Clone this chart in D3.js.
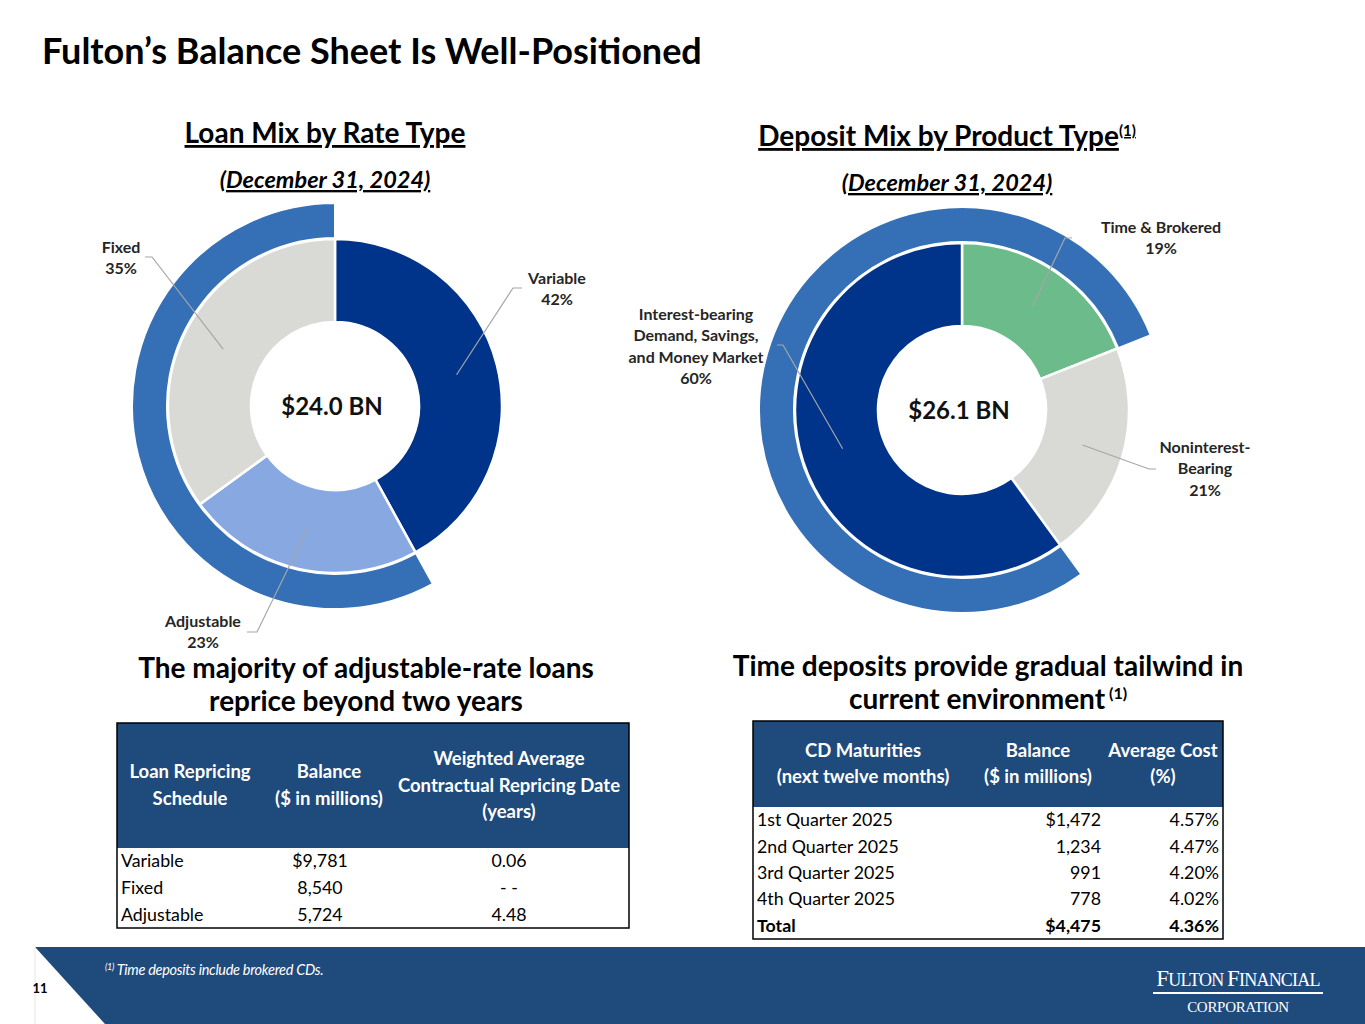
<!DOCTYPE html>
<html>
<head>
  <meta charset="utf-8">
  <title>Fulton's Balance Sheet</title>
  <script src="https://cdn.jsdelivr.net/npm/d3@7"></script>
  <style>
    body { margin: 0; background: #fff; }
    svg text { font-family: Lato, "Open Sans", sans-serif; }
  </style>
</head>
<body>
  <div id="slide"></div>
  <script>
    // Loan mix (inner ring, clockwise from 12 o'clock)
    const loanLabels = [["Variable", "42%"], ["Adjustable", "23%"], ["Fixed", "35%"]];
    const loanValues = [42, 23, 35];
    const loanColors = ["#00338A", "#87A8E0", "#D9D9D6"];

    // Deposit mix
    const depositLabels = [["Time & Brokered", "19%"], ["Noninterest-", "Bearing", "21%"],
                           ["Interest-bearing", "Demand, Savings,", "and Money Market", "60%"]];
    const depositValues = [19, 21, 60];
    const depositColors = ["#6CBB8A", "#D9D9D6", "#00338A"];

    // Loan repricing table
    const repriceHeader = [["Loan Repricing", "Schedule"], ["Balance", "($ in millions)"],
                           ["Weighted Average", "Contractual Repricing Date", "(years)"]];
    const repriceTypes = ["Variable", "Fixed", "Adjustable"];
    const repriceBalances = ["$9,781", "8,540", "5,724"];
    const repriceDates = ["0.06", "- -", "4.48"];

    // CD maturities table
    const cdHeader = [["CD Maturities", "(next twelve months)"], ["Balance", "($ in millions)"], ["Average Cost", "(%)"]];
    const cdQuarters = ["1st Quarter 2025", "2nd Quarter 2025", "3rd Quarter 2025", "4th Quarter 2025", "Total"];
    const cdBalances = ["$1,472", "1,234", "991", "778", "$4,475"];
    const cdCosts = ["4.57%", "4.47%", "4.20%", "4.02%", "4.36%"];

    const W = 1365, H = 1024;
    const ringBlue = "#3570B7", headBlue = "#1F4A7C", leader = "#A6A6A6";

    const svg = d3.select("#slide").append("svg")
        .attr("width", W).attr("height", H);

    // Title
    svg.append("text").attr("x", 42).attr("y", 64)
        .attr("font-size", 36).attr("font-weight", 700).attr("fill", "#000")
        .text("Fulton\u2019s Balance Sheet Is Well-Positioned");

    function heading(x, y, main, sup) {
      const t = svg.append("text").attr("x", x).attr("y", y).attr("text-anchor", "middle")
          .attr("font-size", 28).attr("font-weight", 700).style("text-decoration", "underline");
      t.append("tspan").text(main);
      if (sup) t.append("tspan").attr("font-size", 15).attr("dy", -10).style("text-decoration", "none").text(sup);
      svg.append("text").attr("x", x).attr("y", y + 45).attr("text-anchor", "middle")
          .attr("font-size", 23.5).attr("font-weight", 700).attr("font-style", "italic")
          .style("text-decoration", "underline").text("(December 31, 2024)");
    }
    heading(325, 143, "Loan Mix by Rate Type");
    heading(947, 146, "Deposit Mix by Product Type", "(1)");

    // Donut with partial outer ring; leader lines from slice centroids
    function donut(cx, cy, values, colors, labels, ringFrom, ringTo, total, labelPos) {
      const g = svg.append("g").attr("transform", `translate(${cx},${cy})`);
      const pie = d3.pie().sort(null).value(d => d);
      const arcs = pie(values);
      const inner = d3.arc().innerRadius(84).outerRadius(167);
      const outer = d3.arc().innerRadius(168).outerRadius(203);

      const a0 = arcs[ringFrom].startAngle;
      let a1 = arcs[ringTo].endAngle;
      if (a1 <= a0) a1 += 2 * Math.PI;
      g.append("path").attr("d", outer({ startAngle: a0, endAngle: a1 }))
          .attr("fill", ringBlue).attr("stroke", "#fff").attr("stroke-width", 2);

      g.selectAll(".slice").data(arcs).enter().append("path")
          .attr("class", "slice").attr("d", inner)
          .attr("fill", (d, i) => colors[i])
          .attr("stroke", "#fff").attr("stroke-width", 2.5);

      arcs.forEach((d, i) => {
        const c = inner.centroid(d);
        const p = labelPos[i];
        g.append("polyline")
            .attr("points", [c, p.elbow, [p.elbow[0] + p.tail, p.elbow[1]]].map(q => q.join(",")).join(" "))
            .attr("fill", "none").attr("stroke", leader).attr("stroke-width", 1.2);
        const t = g.append("text").attr("text-anchor", "middle")
            .attr("font-size", 16).attr("font-weight", 700).attr("fill", "#262626");
        labels[i].forEach((line, k) => {
          t.append("tspan").attr("x", p.text[0]).attr("y", p.text[1] + k * 21.3).text(line);
        });
      });

      g.append("text").attr("text-anchor", "middle").attr("y", 9)
          .attr("x", -3).attr("font-size", 24).attr("font-weight", 700).attr("fill", "#111")
          .text(total);
    }

    donut(335, 406, loanValues, loanColors, loanLabels, 1, 2, "$24.0 BN", [
      { elbow: [178, -118], tail: 9, text: [222, -122] },
      { elbow: [-78, 226], tail: -10, text: [-132, 221] },
      { elbow: [-183, -149], tail: -7, text: [-214, -153] }
    ]);

    donut(962, 410, depositValues, depositColors, depositLabels, 2, 0, "$26.1 BN", [
      { elbow: [103, -172], tail: 7, text: [199, -177] },
      { elbow: [187, 59], tail: 7, text: [243, 43] },
      { elbow: [-179, -65], tail: -6, text: [-266, -90] }
    ]);

    // Sub headings
    function subhead(x, y, lines, sup) {
      lines.forEach((line, k) => {
        const t = svg.append("text").attr("x", x).attr("y", y + k * 33).attr("text-anchor", "middle")
            .attr("font-size", 28).attr("font-weight", 700).attr("fill", "#000").text(line);
        if (sup && k === lines.length - 1)
          t.append("tspan").attr("font-size", 16).attr("dy", -10).text(" " + sup);
      });
    }
    subhead(366, 678, ["The majority of adjustable-rate loans", "reprice beyond two years"]);
    subhead(988, 676, ["Time deposits provide gradual tailwind in", "current environment"], "(1)");

    // Table helper
    function table(opt) {
      const g = svg.append("g");
      const rows = d3.scaleBand().domain(d3.range(opt.rows.length))
          .range([opt.headBottom, opt.bottom]);
      g.append("rect").attr("x", opt.left).attr("y", opt.top)
          .attr("width", opt.right - opt.left).attr("height", opt.headBottom - opt.top)
          .attr("fill", headBlue);
      g.append("rect").attr("x", opt.left).attr("y", opt.top)
          .attr("width", opt.right - opt.left).attr("height", opt.bottom - opt.top)
          .attr("fill", "none").attr("stroke", "#000").attr("stroke-width", 1.5);

      opt.header.forEach((lines, j) => {
        const y0 = (opt.top + opt.headBottom) / 2 - (lines.length - 1) * opt.headLine / 2 + 6;
        lines.forEach((line, k) => {
          g.append("text").attr("x", opt.headX[j]).attr("y", y0 + k * opt.headLine)
              .attr("text-anchor", "middle").attr("font-size", 18.5).attr("font-weight", 700)
              .attr("fill", "#fff").text(line);
        });
      });

      opt.rows.forEach((row, r) => {
        const y = rows(r) + rows.bandwidth() / 2 + 6;
        row.forEach((cell, j) => {
          g.append("text").attr("x", opt.cellX[j]).attr("y", y)
              .attr("text-anchor", opt.anchor[j]).attr("font-size", 17.8)
              .attr("font-weight", opt.boldRow === r ? 700 : 400).attr("fill", "#000").text(cell);
        });
      });
    }

    table({
      left: 117, right: 629, top: 723, headBottom: 848, bottom: 928, headLine: 26.5,
      header: repriceHeader, headX: [190, 329, 509],
      rows: repriceTypes.map((d, i) => [d, repriceBalances[i], repriceDates[i]]),
      cellX: [121, 320, 509], anchor: ["start", "middle", "middle"]
    });

    table({
      left: 753, right: 1223, top: 721, headBottom: 807, bottom: 939, headLine: 26,
      header: cdHeader, headX: [863, 1038, 1163],
      rows: cdQuarters.map((d, i) => [d, cdBalances[i], cdCosts[i]]),
      cellX: [757, 1101, 1219], anchor: ["start", "end", "end"], boldRow: 4
    });

    // Footer band
    svg.append("polygon").attr("points", "35,947 1365,947 1365,1024 105,1024").attr("fill", headBlue);
    svg.append("line").attr("x1", 35).attr("x2", 35).attr("y1", 947).attr("y2", 1024)
        .attr("stroke", "#E6E6E6").attr("stroke-width", 1);
    svg.append("text").attr("x", 40).attr("y", 993).attr("text-anchor", "middle")
        .attr("font-size", 13).attr("font-weight", 700).text("11");
    const fn = svg.append("text").attr("x", 105).attr("y", 975).attr("fill", "#fff")
        .attr("font-size", 14.5).attr("font-style", "italic").attr("letter-spacing", -0.3);
    fn.append("tspan").attr("font-size", 9).attr("dy", -5).text("(1)");
    fn.append("tspan").attr("dy", 5).text(" Time deposits include brokered CDs.");

    // Logo
    const logo = svg.append("g").attr("fill", "#fff");
    const l1 = logo.append("text").attr("x", 1238).attr("y", 986).attr("text-anchor", "middle")
        .attr("font-size", 23).attr("letter-spacing", -0.8).style("font-family", "'Liberation Serif', serif");
    l1.append("tspan").text("F");
    l1.append("tspan").attr("font-size", 18).text("ULTON ");
    l1.append("tspan").text("F");
    l1.append("tspan").attr("font-size", 18).text("INANCIAL");
    logo.append("rect").attr("x", 1153).attr("y", 992).attr("width", 170).attr("height", 2).attr("fill", "#fff");
    logo.append("text").attr("x", 1238).attr("y", 1012).attr("text-anchor", "middle")
        .attr("font-size", 15).attr("letter-spacing", -0.3).style("font-family", "'Liberation Serif', serif")
        .text("CORPORATION");
  </script>
</body>
</html>
